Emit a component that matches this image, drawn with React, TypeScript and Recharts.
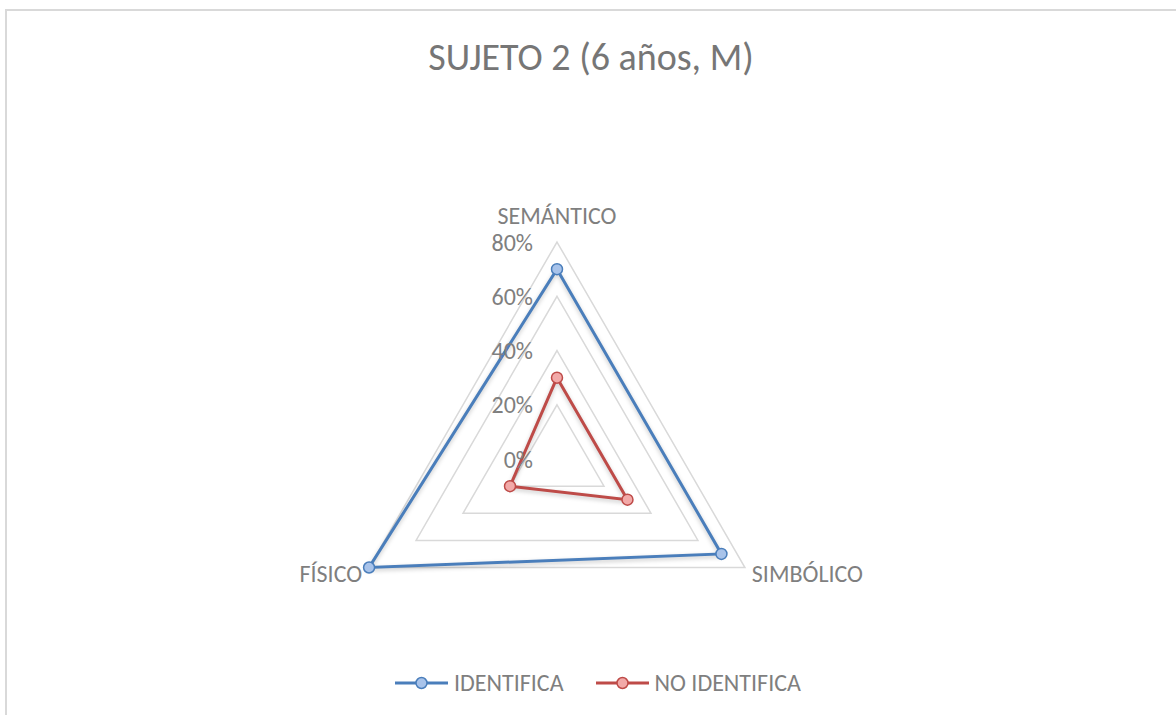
import React from 'react';
import { RadarChart, Radar, PolarGrid, PolarAngleAxis, PolarRadiusAxis, Legend } from 'recharts';

const FONT = 'Calibri, Carlito, Lato, sans-serif';

const categories = ['SEMÁNTICO', 'SIMBÓLICO', 'FÍSICO'];
const identifica = [70, 70, 80];
const noIdentifica = [30, 30, 20];
const radiusTicks = [0, 20, 40, 60, 80];

const seriesInfo = [
  { key: 'identifica', name: 'IDENTIFICA', stroke: '#4a7ebb', fill: '#a8c3ea' },
  { key: 'noIdentifica', name: 'NO IDENTIFICA', stroke: '#be4b48', fill: '#f2a9a8' },
];

const data = categories.map((c, i) => ({
  category: c,
  identifica: identifica[i],
  noIdentifica: noIdentifica[i],
}));

function AngleTick(props: any) {
  const { x, y, textAnchor, payload } = props;
  const dy = textAnchor === 'middle' ? -19 : 2;
  return (
    <text x={x} y={y + dy} textAnchor={textAnchor} dominantBaseline="central" fill="#7f7f7f" fontSize={24} fontFamily={FONT}>
      {payload.value}
    </text>
  );
}

function RadiusTick(props: any) {
  const { x, y, payload } = props;
  return (
    <text x={x - 24} y={y} textAnchor="end" dominantBaseline="central" fill="#7f7f7f" fontSize={24} fontFamily={FONT}>
      {payload.value}%
    </text>
  );
}

function LegendContent() {
  return (
    <div style={{ display: 'flex', alignItems: 'center', gap: 32, fontFamily: FONT, fontSize: 24, color: '#7f7f7f' }}>
      {seriesInfo.map((s) => (
        <div key={s.key} style={{ display: 'flex', alignItems: 'center', gap: 6 }}>
          <svg width={53} height={14}>
            <line x1={0} y1={7} x2={53} y2={7} stroke={s.stroke} strokeWidth={3} />
            <circle cx={26.5} cy={7} r={5.5} fill={s.fill} stroke={s.stroke} strokeWidth={1.5} />
          </svg>
          <span style={{ lineHeight: '26px' }}>{s.name}</span>
        </div>
      ))}
    </div>
  );
}

export default function App() {
  return (
    <div style={{ position: 'absolute', left: 0, top: 0, width: 1176, height: 715, overflow: 'hidden', background: '#fff' }}>
      <style>{`.recharts-radar-polygon path { filter: drop-shadow(0px 2px 2px rgba(0,0,0,0.22)); }`}</style>
      <div style={{ position: 'absolute', left: 5, top: 9, width: 1200, height: 800, border: '2px solid #d9d9d9' }} />
      <div
        style={{
          position: 'absolute',
          left: 0,
          width: 1182,
          top: 37,
          textAlign: 'center',
          fontFamily: FONT,
          fontSize: 38,
          lineHeight: '40px',
          color: '#767676',
        }}
      >
        SUJETO 2 (6 años, M)
      </div>
      <div style={{ position: 'absolute', left: 0, top: 0 }}>
        <RadarChart
          width={1176}
          height={715}
          data={data}
          cx={557}
          cy={459}
          outerRadius={217}
          margin={{ top: 0, right: 0, bottom: 0, left: 0 }}
        >
          <PolarGrid gridType="polygon" radialLines={false} stroke="#d9d9d9" strokeWidth={1.5} />
          <PolarAngleAxis dataKey="category" tick={<AngleTick />} tickLine={false} axisLine={false} />
          <PolarRadiusAxis
            angle={90}
            domain={[radiusTicks[0], radiusTicks[radiusTicks.length - 1]]}
            tickCount={radiusTicks.length}
            tick={<RadiusTick />}
            axisLine={false}
          />
          {seriesInfo.map((s) => (
            <Radar
              key={s.key}
              name={s.name}
              dataKey={s.key}
              stroke={s.stroke}
              strokeWidth={3}
              fill="none"
              fillOpacity={0}
              dot={{ r: 5.5, fill: s.fill, stroke: s.stroke, strokeWidth: 1.5, fillOpacity: 1 }}
              isAnimationActive={false}
            />
          ))}
          <Legend
            verticalAlign="middle"
            layout="horizontal"
            content={<LegendContent />}
            wrapperStyle={{ top: 670, left: 395, width: 500 }}
          />
        </RadarChart>
      </div>
    </div>
  );
}
